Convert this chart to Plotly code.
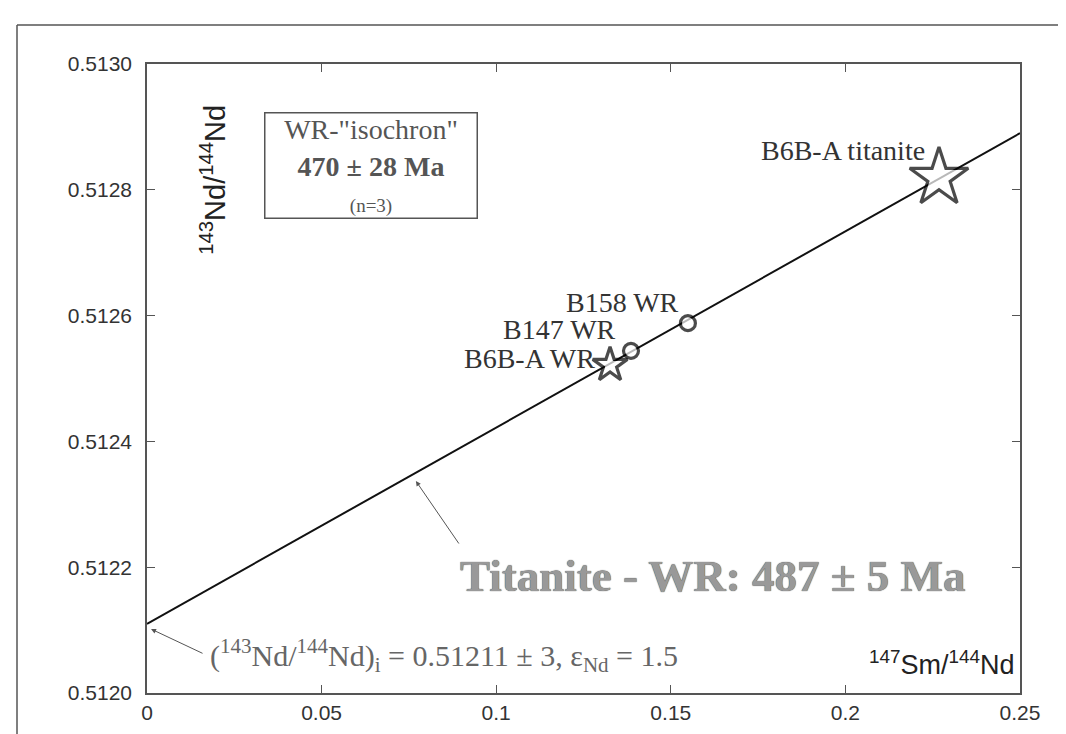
import plotly.graph_objects as go

# ---- data ----
iso_x = [0.0, 0.25]
iso_y = [0.51211, 0.51289]

sample_names = ["B6B-A titanite", "B158 WR", "B147 WR", "B6B-A WR"]
sm_nd = [0.2268, 0.1549, 0.1386, 0.1326]
nd_nd = [0.512819, 0.512588, 0.512544, 0.5125215]
symbols = ["star", "circle", "circle", "star"]
msizes = [44, 15, 15, 26]

x_ticks = [0, 0.05, 0.1, 0.15, 0.2, 0.25]
y_ticks = [0.5120, 0.5122, 0.5124, 0.5126, 0.5128, 0.5130]
y_ticktext = ["0.5120", "0.5122", "0.5124", "0.5126", "0.5128", "0.5130"]

SERIF = "Liberation Serif"
SANS = "Liberation Sans"

W, H = 1066, 734
ML, MR, MT, MB = 139, 54, 56, 49

fig = go.Figure()
fig.add_trace(go.Scatter(x=iso_x, y=iso_y, mode="lines",
                         line=dict(color="#111", width=2), hoverinfo="skip", showlegend=False))
fig.add_trace(go.Scatter(x=sm_nd, y=nd_nd, mode="markers",
                         marker=dict(symbol=symbols, size=msizes, color="white",
                                     line=dict(color="#000", width=3.2)),
                         text=sample_names, showlegend=False))

ann = []
# sample labels, offset from their points
offs = [(-12, 27), (-7, 21), (-13, 21), (-13, 6)]
for name, xv, yv, (dx, dy) in zip(sample_names, sm_nd, nd_nd, offs):
    ann.append(dict(x=xv, y=yv, xref="x", yref="y", text=name, showarrow=False,
                    xanchor="right", yanchor="middle", xshift=dx, yshift=dy,
                    font=dict(family=SERIF, size=28, color="#333")))

# boxed WR isochron
ann.append(dict(x=0.0641, y=0.512839, xref="x", yref="y", showarrow=False,
                text='WR-"isochron"<br><b>470 ± 28 Ma</b><br><span style="font-size:19px">(n=3)</span>',
                font=dict(family=SERIF, size=28, color="#555"),
                bordercolor="#555", borderwidth=1.5, borderpad=0, width=211, height=104,
                xanchor="center", yanchor="middle", align="center", bgcolor="white"))

# big titanite age
ann.append(dict(x=0.1620, y=0.512186, xref="x", yref="y", showarrow=False,
                text="<b>Titanite - WR: 487 ± 5 Ma</b>",
                font=dict(family=SERIF, size=45, color="#999999", shadow="0px 0px 1px #222"),
                xanchor="center", yanchor="middle"))
# arrow to isochron
ann.append(dict(x=0.0770, y=0.512337, xref="x", yref="y", text="", showarrow=True,
                ax=44, ay=64, arrowhead=2, arrowsize=1, arrowwidth=1, arrowcolor="#555"))

# initial ratio
ann.append(dict(x=0.01747, y=0.512059, xref="x", yref="y", showarrow=False,
                text="(<sup>143</sup>Nd/<sup>144</sup>Nd)<sub>i</sub> = 0.51211 ± 3, ε<sub>Nd</sub> = 1.5",
                font=dict(family=SERIF, size=30, color="#666"), xanchor="left", yanchor="middle"))
ann.append(dict(x=0.00115, y=0.5121017, xref="x", yref="y", text="", showarrow=True,
                ax=53, ay=25, arrowhead=2, arrowsize=1, arrowwidth=1, arrowcolor="#555"))

# axis titles inside the frame
ann.append(dict(x=0.0189, y=0.512816, xref="x", yref="y", showarrow=False, textangle=-90,
                text="<sup>143</sup>Nd/<sup>144</sup>Nd",
                font=dict(family=SANS, size=29, color="#222"), xanchor="center", yanchor="middle"))
ann.append(dict(x=0.2492, y=0.512048, xref="x", yref="y", showarrow=False,
                text="<sup>147</sup>Sm/<sup>144</sup>Nd",
                font=dict(family=SANS, size=27, color="#222"), xanchor="right", yanchor="middle"))

pw = W - ML - MR
ph = H - MT - MB
px2paper_x = lambda p: (p - ML) / pw
py2paper_y = lambda p: (H - MB - p) / ph

shapes = [
    dict(type="line", xref="paper", yref="paper", x0=px2paper_x(9), x1=px2paper_x(W + 5),
         y0=py2paper_y(17), y1=py2paper_y(17), line=dict(color="#555", width=1.5)),
    dict(type="line", xref="paper", yref="paper", x0=px2paper_x(9), x1=px2paper_x(9),
         y0=py2paper_y(17), y1=py2paper_y(H + 5), line=dict(color="#555", width=1.5)),
]

axis_common = dict(showgrid=False, zeroline=False, showline=True, linecolor="#555", linewidth=1.5,
                   mirror="ticks", ticks="inside", ticklen=8, tickwidth=1.2, tickcolor="#555",
                   tickfont=dict(family=SANS, size=21, color="#333"))

fig.update_layout(
    width=W, height=H, margin=dict(l=ML, r=MR, t=MT, b=MB),
    paper_bgcolor="white", plot_bgcolor="white",
    xaxis=dict(range=[0, 0.25], tickvals=x_ticks, ticktext=[str(v) for v in x_ticks], **axis_common),
    yaxis=dict(range=[0.5120, 0.5130], tickvals=y_ticks, ticktext=y_ticktext,
               ticklabelstandoff=9, **axis_common),
    annotations=ann, shapes=shapes, showlegend=False,
)

fig.write_html("out.html")
